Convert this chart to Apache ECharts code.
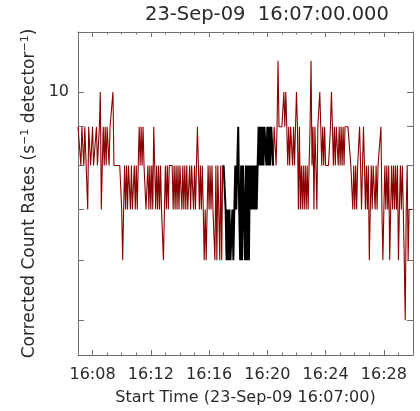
<!DOCTYPE html>
<html><head><meta charset="utf-8">
<script src="https://cdn.jsdelivr.net/npm/echarts@6/dist/echarts.min.js"></script>
<style>html,body{margin:0;padding:0;background:#fff}#c{width:420px;height:411px}</style>
</head><body><div id="c"></div>
<script>
const chartTitle = '23-Sep-09  16:07:00.000';
const xTitle = 'Start Time (23-Sep-09 16:07:00)';
const startMinute = 7;        // 16:07:00 (minutes after 16:00)
const endMinute = 30;         // 16:30:00
const binSeconds = 4;
const xMajorTicks = [8, 12, 16, 20, 24, 28];
const xMinorTicks = [7,8,9,10,11,12,13,14,15,16,17,18,19,20,21,22,23,24,25,26,27,28,29,30];
const yTicks = [5, 6, 7, 8, 9, 10];
const yLabels = [10];
const blackStartBin = 150;
const blackEndBin = 201;
const rates = [
 9,9,9,8,9,9,8,9,9,9,7,9,9,
 8,8,9,8,8,8,9,8,8,
 9,10,7,
 8,9,8,9,8,9,9,8,
 9,9,9,10,
 8,8,8,8,8,8,8,8,
 7,6,
 7,8,7,8,7,8,8,7,8,7,7,8,7,8,7,8,9,
 8,9,8,9,
 8,8,7,
 7,8,7,8,7,8,7,9,8,7,
 8,7,8,7,8,7,7,
 6,
 7,8,7,8,7,
 8,8,8,8,
 7,8,7,8,7,
 8,7,8,8,7,8,7,8,7,8,7,7,8,7,8,8,7,8,7,8,
 9,
 8,7,8,7,8,7,
 6,7,6,7,
 8,7,8,7,8,7,
 7,6,8,6,8,8,6,8,6,8,
 8,8,
 7,6,7,6,7,6,6,7,6,7,
 8,7,8,
 9,
 7,6,8,6,8,7,6,8,6,8,6,8,
 7,8,7,8,7,8,7,
 8,9,8,
 9,8,9,8,9,9,8,9,8,9,8,9,9,8,
 9,9,8,9,
 11,
 9,9,9,9,9,
 10,9,10,9,
 8,9,8,9,9,8,9,8,9,
 10,
 9,7,9,7,8,
 7,8,7,8,7,8,
 7,8,9,
 11,8,
 9,7,9,8,7,9,
 9,10,9,
 8,9,8,9,8,
 8,8,8,8,
 9,10,
 9,8,9,8,9,9,8,9,8,9,8,9,8,9,
 9,9,9,9,9,
 8,8,
 7,8,7,8,7,8,8,
 9,8,7,8,9,
 8,7,8,7,8,
 6,
 7,8,7,8,8,7,8,7,8,8,
 8,9,
 7,6,7,
 8,7,8,7,8,
 6,
 7,8,7,8,7,8,7,8,
 6,
 7,8,7,8,7,
 6,5,
 7,8,6,
 7,7,7,7
];

const redData = [], blackData = [];
rates.forEach((v, i) => {
  const t = startMinute + i * binSeconds / 60;
  const inBlack = i >= blackStartBin && i <= blackEndBin;
  redData.push((i <= blackStartBin || i >= blackEndBin) ? [t, v] : [t, null]);
  blackData.push(inBlack ? [t, v] : [t, null]);
});

const FONT = 'DejaVu Sans';
const AX = '#707070';
const TXT = '#2a2a2a';
const fmtX = v => '16:' + String(Math.round(v)).padStart(2, '0');

function xAx(pos, ticks, len, showLine, showLabel) {
  return {
    type: 'value', position: pos, min: startMinute, max: endMinute,
    axisLine: {show: showLine, lineStyle: {color: AX, width: 1}},
    axisTick: {show: true, inside: true, length: len, customValues: ticks, lineStyle: {color: AX}},
    axisLabel: showLabel ? {show: true, customValues: xMajorTicks, formatter: fmtX, fontSize: 16, fontFamily: FONT, color: TXT, margin: 12} : {show: false},
    splitLine: {show: false}
  };
}
function yAx(pos, showLabel) {
  return {
    type: 'log', logBase: 10, position: pos, min: 4.5, max: 12,
    axisLine: {show: true, lineStyle: {color: AX, width: 1}},
    axisTick: {show: true, inside: true, length: 6, customValues: yTicks, lineStyle: {color: AX}},
    axisLabel: showLabel ? {show: true, customValues: yLabels, fontSize: 16, fontFamily: FONT, color: TXT, margin: 9} : {show: false},
    splitLine: {show: false}, minorTick: {show: false}
  };
}

const chart = echarts.init(document.getElementById('c'), null, {renderer: 'canvas'});
const xAxes = [
  xAx('bottom', xMajorTicks, 5, true, true),
  xAx('bottom', xMinorTicks, 2.5, false, false),
  xAx('top', xMajorTicks, 5, true, false),
  xAx('top', xMinorTicks, 2.5, false, false)
];
xAxes[0].name = xTitle;
xAxes[0].nameLocation = 'middle';
xAxes[0].nameGap = 35;
xAxes[0].nameTextStyle = {fontSize: 16, fontFamily: FONT, color: TXT};
const yAxes = [yAx('left', true), yAx('right', false)];
yAxes[0].name = '{n|Corrected Count Rates (s}{s|−1}{n| detector}{s|−1}{n|)}';
yAxes[0].nameLocation = 'middle';
yAxes[0].nameGap = 38;
yAxes[0].nameRotate = 90;
yAxes[0].nameTextStyle = {
  fontSize: 17, fontFamily: FONT, color: TXT,
  rich: {n: {fontSize: 17, fontFamily: FONT, color: TXT}, s: {fontSize: 11, fontFamily: FONT, color: TXT, verticalAlign: 'top', padding: [0,0,8,0]}}
};

chart.setOption({
  animation: false,
  backgroundColor: '#fff',
  title: {text: chartTitle, left: 140, top: 0, textStyle: {fontSize: 19.5, fontWeight: 'normal', fontFamily: FONT, color: TXT}},
  grid: {left: 78, right: 7, top: 32, bottom: 54, containLabel: false},
  xAxis: xAxes,
  yAxis: yAxes,
  series: [
    {type: 'line', data: redData, xAxisIndex: 0, yAxisIndex: 0, showSymbol: false, connectNulls: false,
     lineStyle: {color: '#8b0000', width: 1.1}, itemStyle: {color: '#8b0000'}},
    {type: 'line', data: blackData, xAxisIndex: 0, yAxisIndex: 0, showSymbol: false, connectNulls: false,
     lineStyle: {color: '#000', width: 2}, itemStyle: {color: '#000'}}
  ]
});
</script></body></html>
